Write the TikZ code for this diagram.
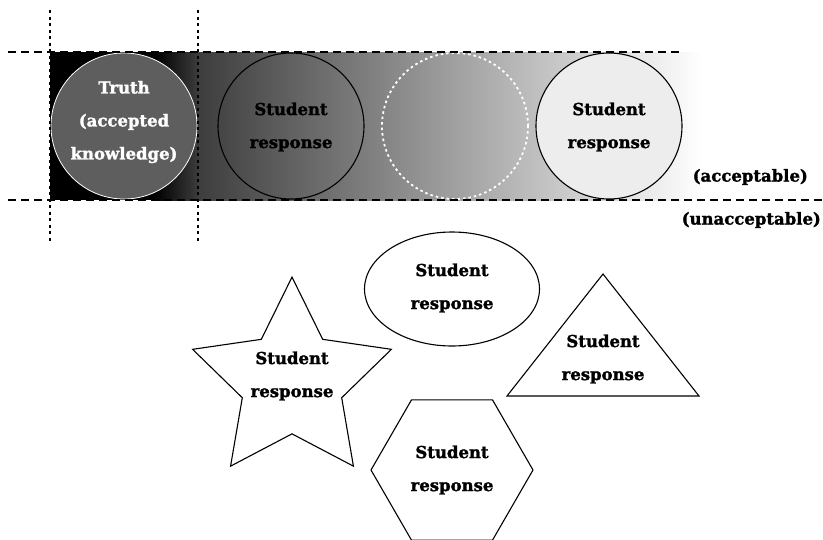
\documentclass[tikz,border=0pt]{standalone}
\usepackage{fontspec}
\setmainfont{DejaVu Serif}[BoldFeatures={FakeBold=1.6}]
\usetikzlibrary{shapes.geometric}
\begin{document}
\begin{tikzpicture}[x=1pt,y=-1pt,
  lbl/.style={font=\bfseries\fontsize{16.5}{33}\selectfont, align=center, inner sep=0pt},
  bandline/.style={line width=1.5pt, dash pattern=on 8pt off 5pt},
  guide/.style={line width=1.1pt, dash pattern=on 3pt off 3.5pt},
  resp/.style={draw=black, line width=1.1pt}
]
\useasboundingbox (0,0) rectangle (823,539);

% graded band: dark on the left, fading to white on the right
\fill[black] (50,52) rectangle (156,200);
\shade[left color=black, right color=black!76] (155,52) rectangle (199,200);
\shade[left color=black!76, right color=white] (198,52) rectangle (702,200);

% circles along the band
\node[circle, minimum size=146pt, fill=black!63, draw=white, line width=0.8pt] (truth) at (124,126) {};
\node[lbl, text=white] (truthtxt) at (124,122) {Truth\\(accepted\\knowledge)};
\node[circle, minimum size=146pt, resp] (s1) at (291,126) {};
\node[lbl] (s1txt) at (291,127) {Student\\response};
\node[circle, minimum size=146pt, draw=white, line width=1.8pt, dash pattern=on 2.5pt off 3pt] (gap) at (455,126) {};
\node[circle, minimum size=146pt, resp, fill=black!7] (s2) at (609,126) {};
\node[lbl] (s2txt) at (609,127) {Student\\response};

% boundary lines
\coordinate (tl) at (8,52);
\coordinate (tr) at (680,52);
\coordinate (bl) at (8,200);
\coordinate (br) at (823,200);
\draw[bandline] (tl) -- (tr);
\draw[bandline] (bl) -- (br);
\coordinate (v1t) at (50,10);
\coordinate (v1b) at (50,243);
\coordinate (v2t) at (198,10);
\coordinate (v2b) at (198,243);
\draw[guide] (v1t) -- (v1b);
\draw[guide] (v2t) -- (v2b);

\node[lbl, anchor=east] (acc) at (808,177) {(acceptable)};
\node[lbl, anchor=east] (unacc) at (821,220) {(unacceptable)};

% responses outside the band
\node[ellipse, resp, minimum width=175pt, minimum height=114pt] (ell) at (452,289) {};
\node[lbl] (elltxt) at (452,288) {Student\\response};

\node[star, star points=5, star point ratio=2.0, minimum size=209pt, inner sep=0pt, resp] (st) at (292,381.6) {};
\node[lbl] (sttxt) at (292,376) {Student\\response};

\coordinate (ta) at (603,274);
\coordinate (tb) at (507,396);
\coordinate (tc) at (699,396);
\draw[resp, line join=miter] (ta) -- (tb) -- (tc) -- cycle;
\node[lbl] (tritxt) at (603,359) {Student\\response};

\node[regular polygon, regular polygon sides=6, minimum size=162pt, inner sep=0pt, resp] (hex) at (452,470) {};
\node[lbl] (hextxt) at (452,470) {Student\\response};
\end{tikzpicture}
\end{document}
